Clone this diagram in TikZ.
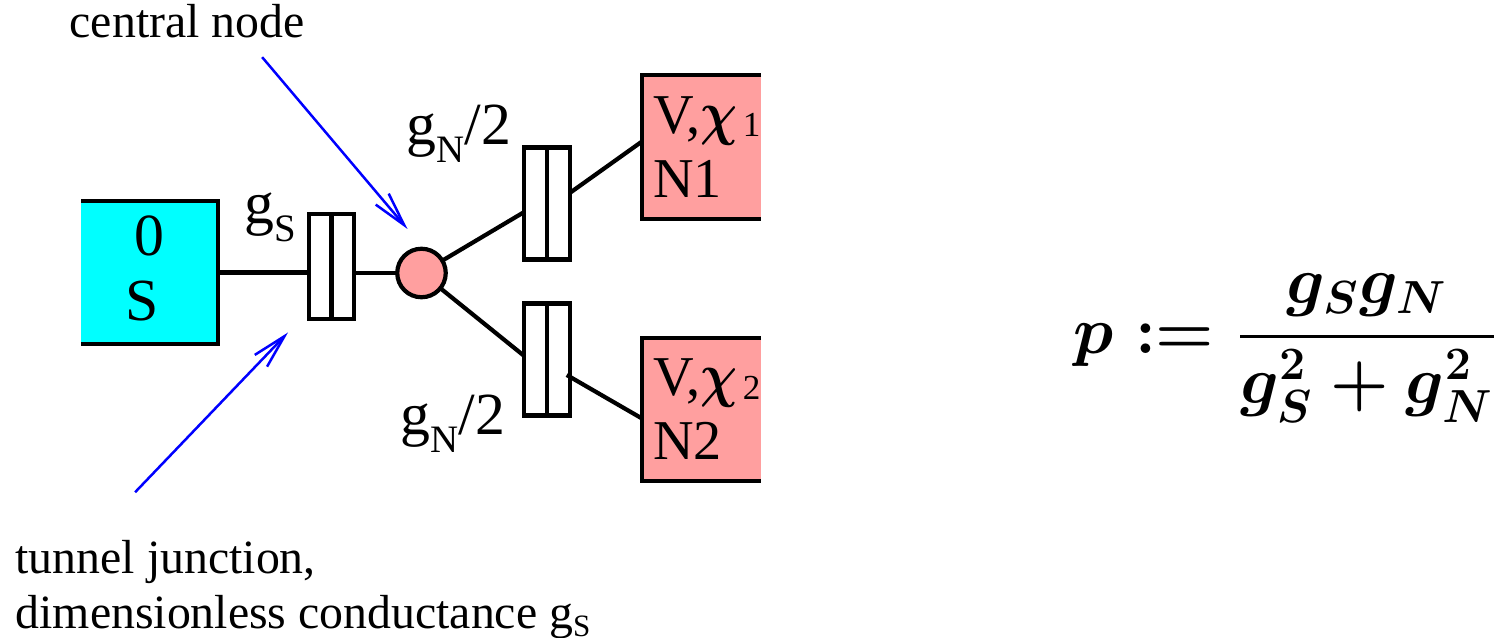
\documentclass[tikz,border=0pt]{standalone}
\usepackage{amsmath, amssymb}
\usepackage{fontspec}
\setmainfont{Liberation Serif}
\usetikzlibrary{arrows.meta}

\definecolor{leadpink}{HTML}{FF9F9F}
\definecolor{supercyan}{RGB}{0,255,255}
\newcommand{\lowsub}[2][0.3em]{\raisebox{-#1}{\fontsize{\the\dimexpr0.65em\relax}{0pt}\selectfont #2}}
\newcommand{\boxsub}[1]{\kern1.5pt\raisebox{-1pt}{\fontsize{10}{10}\selectfont #1}}
\newcommand{\chisym}{\scalebox{0.85}[1]{$\boldsymbol{\chi}$}}

\begin{document}
\begin{tikzpicture}[node distance=1cm, auto, >=stealth,
    wire/.style={line width=0.042cm},
    superbox/.style={inner sep=0pt, outer sep=0pt, align=center, text depth=0.08cm, font=\fontsize{17}{18.5}\selectfont},
    leadbox/.style={inner ysep=0pt, inner xsep=0.11cm, outer sep=0pt, text width=0.97cm, align=left, minimum width=1.19cm, font=\fontsize{16}{18.2}\selectfont},
    junction/.style={draw, wire, inner sep=0pt, outer sep=0pt, minimum width=0.455cm},
    tag/.style={inner sep=0pt, anchor=base west, font=\fontsize{17}{18}\selectfont},
    note/.style={inner sep=0pt, anchor=base west, align=left, font=\fontsize{13.6}{15.9}\selectfont},
    pointer/.style={blue, line width=0.025cm, -{Straight Barb[length=0.34cm, width=0.17cm]}}]
  \useasboundingbox (0,0) rectangle (14.97,6.38);

  \node[superbox, fill=supercyan, minimum width=1.37cm, minimum height=1.43cm] (sbox) at (1.495,3.655) {0\\\kern-0.15cm S};
  \node[junction, minimum height=1.05cm, right of=sbox, xshift=0.82cm, yshift=0.06cm] (jnS) {};
  \node[draw, wire, circle, fill=leadpink, inner sep=0pt, outer sep=0pt, minimum size=0.485cm, right of=jnS, xshift=-0.1cm, yshift=-0.065cm] (central) {};
  \node[junction, minimum height=1.12cm, right of=central, xshift=0.255cm, yshift=0.695cm] (jnA) {};
  \node[junction, minimum height=1.12cm, right of=central, xshift=0.255cm, yshift=-0.865cm] (jnB) {};
  \node[leadbox, fill=leadpink, minimum height=1.44cm, right of=jnA, xshift=0.545cm, yshift=0.565cm] (boxA) {V,\chisym\boxsub{1}\\N1};
  \node[leadbox, fill=leadpink, minimum height=1.43cm, right of=jnB, xshift=0.545cm, yshift=-0.5cm] (boxB) {V,\chisym\boxsub{2}\\N2};

  % open sides of the boxes
  \draw[wire] (sbox.north west) -- (sbox.north east) -- (sbox.south east) -- (sbox.south west);
  \draw[wire] (boxA.north east) -- (boxA.north west) -- (boxA.south west) -- (boxA.south east);
  \draw[wire] (boxB.north east) -- (boxB.north west) -- (boxB.south west) -- (boxB.south east);
  \draw[wire] (jnS.north) -- (jnS.south);
  \draw[wire] (jnA.north) -- (jnA.south);
  \draw[wire] (jnB.north) -- (jnB.south);

  \draw[wire] (sbox.east) -- (sbox.east -| jnS.west);
  \draw[wire] (central.west -| jnS.east) -- (central);
  \draw[wire] (central) -- ([yshift=-0.085cm]jnA.west);
  \draw[wire] (central) -- ([yshift=0.035cm]jnB.west);
  \draw[wire] ([yshift=0.105cm]jnA.east) -- ([yshift=0.055cm]boxA.west);
  \draw[wire] ([xshift=-0.03cm, yshift=-0.155cm]jnB.east) -- ([yshift=-0.09cm]boxB.west);

  \node[tag] (tagS) at (2.44,4.14) {g\lowsub{S}};
  \node[tag] (tagA) at (4.06,4.93) {g\lowsub{N}/2};
  \node[tag] (tagB) at (4.0,2.03) {g\lowsub{N}/2};

  \node[note] (centrallabel) at (0.69,6.0) {central node};
  \node[note] (tunnellabel) at (0.15,0.09) {tunnel junction,\\dimensionless conductance g\lowsub[0.15em]{S}};

  \draw[pointer] ([xshift=0.75cm, yshift=-0.18cm]centrallabel.south) -- ([xshift=-0.14cm, yshift=0.44cm]central.center);
  \draw[pointer] ([xshift=-1.68cm, yshift=0.47cm]tunnellabel.north) -- ([xshift=-0.435cm, yshift=-0.66cm]jnS.center);

  \node[inner sep=0pt, anchor=east] (formula) at (14.99,2.9) {\scalebox{1.1}{\LARGE\boldmath$\displaystyle p := \genfrac{}{}{1pt}{0}{g_S g_N}{g_S^2+g_N^2}$}};
\end{tikzpicture}
\end{document}
